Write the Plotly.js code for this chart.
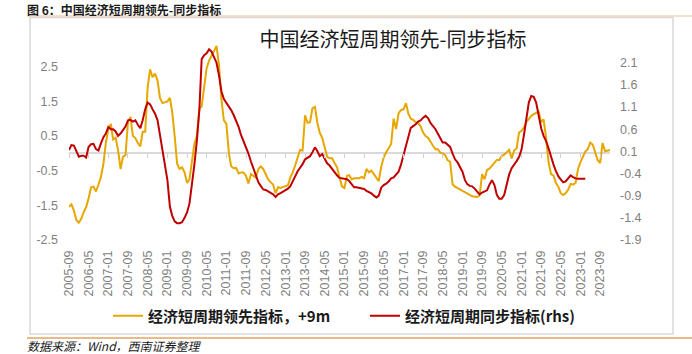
<!DOCTYPE html>
<html>
<head>
<meta charset="utf-8">
<script src="https://cdn.plot.ly/plotly-3.0.1.min.js"></script>
<style>html,body{margin:0;padding:0;background:#fff;}#chart{width:692px;height:354px;}</style>
</head>
<body>
<div id="chart"></div>
<script>
// ---- data ----
const leadStart = '2005-09';   // leading index (shifted +9m), monthly
const coinStart = '2005-09';   // coincident index, monthly
const leading = [
 -1.54,-1.47,-1.65,-1.92,-2.0,-1.88,-1.7,-1.55,-1.3,-0.98,
 -0.96,-1.1,-0.9,-0.68,-0.3,0.3,0.7,0.85,0.4,0.45,
 0.1,-0.45,-0.1,-0.05,0.9,1.05,0.5,0.44,0.3,0.2,
 0.62,0.62,1.9,2.42,2.2,2.3,2.1,1.6,1.45,1.48,
 1.5,1.6,1.2,0.5,-0.3,-0.45,-0.4,-0.55,-0.85,-0.75,
 -0.15,0.28,0.5,1.3,1.35,2.0,2.45,2.68,2.8,2.95,
 3.1,2.55,1.55,0.95,0.85,0.0,-0.37,-0.43,-0.42,-0.58,
 -0.55,-0.55,-0.65,-0.87,-0.6,-0.65,-0.7,-0.45,
 -0.38,-0.45,-0.62,-0.75,-0.83,-0.9,-1.15,-0.98,-1.0,-0.97,-0.94,-0.92,
 -0.7,-0.55,-0.35,-0.1,0.1,0.08,1.1,0.88,0.9,1.3,
 1.34,0.87,0.6,0.45,0.18,-0.1,-0.14,-0.14,-0.28,-0.4,
 -0.68,-0.95,-1.0,-0.65,-0.63,-0.75,-0.72,-0.72,-0.72,-0.68,
 -0.72,-0.45,-0.55,-0.5,-0.6,-0.7,-0.8,-0.38,-0.12,0.03,
 0.17,0.27,1.0,0.7,1.15,1.25,1.27,1.45,1.15,1.0,
 0.97,0.9,0.87,0.78,0.6,0.5,0.45,0.32,0.22,0.12,0.12,
 0.02,0.0,-0.05,-0.2,-0.24,-0.9,-0.96,-1.0,-1.03,-1.06,
 -1.12,-1.16,-1.2,-1.24,-1.26,-1.26,-1.22,-0.6,-0.75,-0.48,
 -0.44,-0.36,-0.26,-0.19,-0.19,-0.08,-0.04,0.02,0.1,-0.15,
 0.08,0.14,0.6,0.65,0.75,0.9,1.0,1.08,1.13,1.17,
 1.2,0.9,0.98,0.45,-0.25,-0.6,-0.64,-0.85,-0.96,-1.15,
 -1.2,-1.15,-1.05,-0.88,-0.9,-0.85,-0.45,-0.25,-0.08,0.05,
 0.12,0.31,0.25,0.0,-0.19,-0.28,0.3,0.06,0.08,0.1
];
const coincident = [
 0.13,0.24,0.23,0.12,-0.02,0.0,0.0,-0.04,0.2,0.26,
 0.27,0.15,0.12,0.28,0.42,0.5,0.65,0.6,0.6,0.55,
 0.45,0.5,0.58,0.66,0.8,0.81,0.77,0.8,0.7,0.62,
 0.8,1.05,1.2,1.16,1.05,0.95,0.8,0.48,0.13,-0.2,
 -0.55,-1.15,-1.35,-1.48,-1.52,-1.52,-1.5,-1.4,-1.28,-1.08,
 -0.65,-0.2,0.35,1.05,2.18,2.27,2.31,2.4,2.35,2.24,
 2.1,1.82,1.45,1.28,1.2,1.12,1.03,0.92,0.8,0.65,
 0.47,0.33,0.2,0.05,-0.13,-0.28,-0.44,-0.6,
 -0.68,-0.76,-0.77,-0.8,-0.84,-0.87,-0.93,-0.87,-0.84,-0.81,-0.78,-0.74,
 -0.69,-0.58,-0.44,-0.35,-0.27,-0.19,-0.08,-0.04,-0.01,0.08,
 0.19,0.1,-0.01,0.04,-0.08,-0.17,-0.22,-0.3,-0.37,-0.44,
 -0.5,-0.51,-0.52,-0.53,-0.57,-0.64,-0.71,-0.71,-0.72,-0.73,
 -0.75,-0.79,-0.82,-0.85,-0.9,-0.94,-0.9,-0.72,-0.66,-0.63,
 -0.58,-0.51,-0.49,-0.43,-0.36,-0.2,0.01,0.2,0.4,0.63,
 0.67,0.71,0.77,0.8,0.86,0.9,0.85,0.74,0.67,0.6,0.5,
 0.38,0.3,0.3,0.24,0.2,0.05,-0.08,-0.15,-0.24,-0.36,
 -0.55,-0.64,-0.68,-0.69,-0.74,-0.81,-0.87,-0.83,-0.8,-0.78,
 -0.65,-0.55,-0.66,-0.88,-0.97,-0.97,-0.88,-0.68,-0.42,-0.28,
 -0.21,-0.12,-0.03,0.14,0.48,0.85,1.2,1.35,1.33,1.2,
 0.92,0.62,0.45,0.33,0.17,-0.04,-0.2,-0.34,-0.46,-0.53,
 -0.6,-0.58,-0.51,-0.44,-0.48,-0.51,-0.52,-0.52,-0.52,-0.52
];
const leftTickVals  = [-2.5,-1.5,-0.5,0.5,1.5,2.5];
const leftTickText  = ['-2.5','-1.5','-0.5','0.5','1.5','2.5'];
const rightTickVals = [-1.9,-1.4,-0.9,-0.4,0.1,0.6,1.1,1.6,2.1];
const rightTickText = ['-1.9','-1.4','-0.9','-0.4','0.1','0.6','1.1','1.6','2.1'];
const seriesNames = ['经济短周期领先指标，+9m','经济短周期同步指标(rhs)'];
const chartTitle = '中国经济短周期领先-同步指标';
const figCaption = '图 6：中国经济短周期领先-同步指标';
const sourceNote = '数据来源：Wind，西南证券整理';

function months(start, n){
  const [y0,m0] = start.split('-').map(Number);
  const out = [];
  for(let i=0;i<n;i++){
    const t = (m0-1)+i;
    const y = y0 + Math.floor(t/12), m = (t%12)+1;
    out.push(y+'-'+String(m).padStart(2,'0')+'-01');
  }
  return out;
}
const xLead = months(leadStart, leading.length);
const xCoin = months(coinStart, coincident.length);

// ---- layout geometry (pixels) ----
const W=692,H=354, L=69, R=610, T=40, B=245;
const pw=R-L, ph=B-T;
const px=v=>(v-L)/pw, py=v=>(B-v)/ph;
const yL=[-2.644,3.27], yR=[-2.013,2.612];
const zeroPos=(0-yL[0])/(yL[1]-yL[0]);

const tickFont={family:'Liberation Sans, Arial, sans-serif',size:12.5,color:'#7f7f7f'};
const cjk='Noto Sans CJK SC, sans-serif';

const traces=[
 {x:xLead,y:leading,name:seriesNames[0],type:'scatter',mode:'lines',
  line:{color:'#E6A700',width:2},xaxis:'x',yaxis:'y'},
 {x:xCoin,y:coincident,name:seriesNames[1],type:'scatter',mode:'lines',
  line:{color:'#C00000',width:2},xaxis:'x2',yaxis:'y2'}
];

const layout={
 width:W,height:H,
 margin:{l:L,r:W-R,t:T,b:H-B,pad:0},
 paper_bgcolor:'#fff',plot_bgcolor:'rgba(0,0,0,0)',
 showlegend:true,
 title:{text:chartTitle,x:393/W,xanchor:'center',y:1-40/H,yanchor:'middle',
   font:{family:cjk,size:20,color:'#1a1a1a'}},
 xaxis:{type:'date',range:['2005-09-01','2024-01-01'],tick0:'2005-09-01',dtick:'M8',
   tickformat:'%Y-%m',tickangle:-90,tickfont:tickFont,showgrid:false,zeroline:false,
   showline:false,ticks:'',ticklabelstandoff:2},
 xaxis2:{type:'date',matches:'x',overlaying:'x',anchor:'free',position:zeroPos,
   tick0:'2005-09-01',dtick:'M8',showticklabels:false,showgrid:false,zeroline:false,
   showline:false,ticks:'outside',ticklen:4,tickwidth:1,tickcolor:'#d0d0d0'},
 yaxis:{range:yL,tickvals:leftTickVals,ticktext:leftTickText,tickfont:tickFont,
   showgrid:false,zeroline:true,zerolinecolor:'#d9d9d9',zerolinewidth:2,
   showline:false,ticks:'',ticklabelstandoff:10},
 yaxis2:{range:yR,tickvals:rightTickVals,ticktext:rightTickText,tickfont:tickFont,
   overlaying:'y',side:'right',anchor:'x2',showgrid:false,zeroline:false,
   showline:false,ticks:'',ticklabelstandoff:9},
 legend:{orientation:'h',x:px(108),xanchor:'left',y:py(316),yanchor:'middle',
   font:{family:cjk,size:15,color:'#1a1a1a',weight:'bold'},
   bgcolor:'rgba(0,0,0,0)',borderwidth:0,entrywidthmode:'pixels',entrywidth:212,
   itemwidth:30,traceorder:'normal'},
 shapes:[
  {type:'line',xref:'paper',yref:'paper',x0:px(27),x1:px(692),y0:py(16),y1:py(16),
   line:{color:'#EBC08F',width:1}},
  {type:'rect',xref:'paper',yref:'paper',x0:px(30),x1:px(673),y0:py(17.5),y1:py(334),
   line:{color:'#d9d9d9',width:1.5},fillcolor:'rgba(0,0,0,0)',layer:'below'},
  {type:'line',xref:'paper',yref:'paper',x0:px(27),x1:px(692),y0:py(338),y1:py(338),
   line:{color:'#E3A45E',width:1.5}}
 ],
 annotations:[
  {text:figCaption,xref:'paper',yref:'paper',x:px(26),y:py(9.5),xanchor:'left',yanchor:'middle',
   showarrow:false,borderpad:0,font:{family:cjk,size:12,color:'#1a1a1a',weight:'bold'}},
  {text:sourceNote,xref:'paper',yref:'paper',x:px(26),y:py(345.5),xanchor:'left',yanchor:'middle',
   showarrow:false,borderpad:0,font:{family:cjk,size:12,color:'#1a1a1a',style:'italic'}}
 ]
};
Plotly.newPlot('chart',traces,layout,{displayModeBar:false,staticPlot:true});
</script>
</body>
</html>
